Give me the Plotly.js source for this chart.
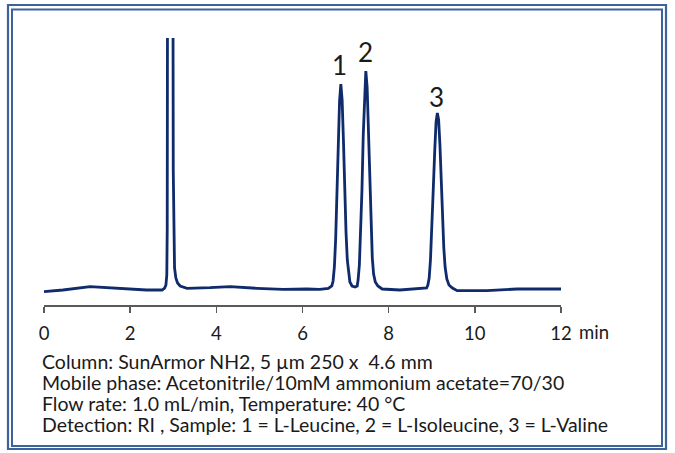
<!DOCTYPE html>
<html>
<head>
<meta charset="utf-8">
<script src="https://cdn.plot.ly/plotly-3.0.1.min.js"></script>
<style>
html,body{margin:0;padding:0;background:#fff;}
#chart{width:675px;height:453px;}
</style>
</head>
<body>
<div id="chart"></div>
<script>
// Retention time (min) and detector signal (arbitrary units, baseline ~0)
var timeMin = [
  0.00, 0.44, 1.07, 1.53, 2.00, 2.38, 2.74, 2.80, 2.83, 2.85, 2.86, 2.87, 2.90, 2.93, 2.96, 2.99,
  3.00, 3.01, 3.03, 3.06, 3.10, 3.16, 3.32, 3.85, 4.32, 4.94, 5.55, 6.10, 6.40, 6.60,
  6.68, 6.71, 6.74, 6.77, 6.80, 6.83, 6.86, 6.89, 6.92, 6.95, 6.98, 7.01, 7.04, 7.07, 7.10, 7.15, 7.22,
  7.27, 7.29, 7.32, 7.35, 7.38, 7.41, 7.44, 7.47, 7.50, 7.53, 7.56, 7.59, 7.62, 7.65, 7.69, 7.75, 7.85,
  8.26, 8.70, 8.88, 8.91, 8.94, 8.97, 9.00, 9.03, 9.07, 9.10, 9.13, 9.16, 9.19, 9.22, 9.25, 9.28, 9.31,
  9.35, 9.40, 9.48, 9.59, 10.28, 10.98, 11.36, 12.00
];
var signal = [
  -1.7, 0.0, 3.3, 2.3, 0.7, 0.0, 0.0, 2, 5, 15, 60, 400, 1500, 1800, 1500, 400,
  120, 50, 22, 12, 7, 4, 1.7, 2.3, 3.3, 1.7, 0.7, 1.0, 0.7, 1.5,
  4, 9, 23, 51, 94, 146, 189, 206, 190, 150, 100, 58, 30, 15, 8, 4, 3,
  4, 10, 25, 55, 100, 155, 200, 219, 203, 160, 108, 62, 32, 16, 8, 4, 1,
  0.0, 1.5, 2, 5, 12, 30, 58, 95, 140, 168, 177, 170, 145, 108, 70, 42, 23,
  11, 5, 2, -0.7, -0.7, 1.0, 1.0, 1.0
];
var peakLabels = ["1", "2", "3"];
var peakTimes = [6.86, 7.47, 9.12];
var peakLabelHeights = [225, 238, 193];
var tickValues = [0, 2, 4, 6, 8, 10, 12];
var tickLabels = ["0", "2", "4", "6", "8", "10", "12"];
var axisUnit = "min";
var conditions = [
  "Column: SunArmor NH2, 5 µm 250 x  4.6 mm",
  "Mobile phase: Acetonitrile/10mM ammonium acetate=70/30",
  "Flow rate: 1.0 mL/min, Temperature: 40 °C",
  "Detection: RI , Sample: 1 = L-Leucine, 2 = L-Isoleucine, 3 = L-Valine"
];

var W = 675, H = 453, L = 44, R = 114, T = 38, B = 148;
var pw = W - L - R, ph = H - T - B;
function px2x(px){ return (px - L) / pw; }
function py2y(py){ return (H - B - py) / ph; }

var frameColor = "#3d639b";
var shapes = [
  {type:"rect", xref:"paper", yref:"paper", x0:px2x(8), x1:px2x(666), y0:py2y(449), y1:py2y(5),
   line:{color:frameColor, width:2.2}, fillcolor:"rgba(0,0,0,0)"},
  {type:"rect", xref:"paper", yref:"paper", x0:px2x(12), x1:px2x(662), y0:py2y(446), y1:py2y(9.5),
   line:{color:frameColor, width:2}, fillcolor:"rgba(0,0,0,0)"}
];

var annotations = [];
for (var i = 0; i < peakLabels.length; i++) {
  annotations.push({x: peakTimes[i], y: peakLabelHeights[i], xref:"x", yref:"y", text: peakLabels[i],
    showarrow:false, font:{family:"Lato, 'Open Sans', sans-serif", size:26, color:"#1a1a1a"}});
}
annotations.push({x: 12, y: 0, xref:"x", yref:"paper", text: axisUnit, showarrow:false,
  xanchor:"left", yanchor:"middle", xshift:16, yshift:-27,
  font:{family:"Lato, sans-serif", size:18.5, color:"#1a1a1a"}});
var lineY = [361, 382, 403, 424];
for (var j = 0; j < conditions.length; j++) {
  annotations.push({x: 0, y: 0, xref:"paper", yref:"paper", text: conditions[j], showarrow:false,
    xanchor:"left", yanchor:"middle", align:"left", xshift:-3, yshift: -(lineY[j] - (H - B)),
    borderpad:0,
    font:{family:"Lato, sans-serif", size:19.5, color:"#1a1a1a"}});
}

var trace = {
  x: timeMin, y: signal, type:"scatter", mode:"lines",
  line:{color:"#0f2b6c", width:2.8}, hoverinfo:"skip"
};

var layout = {
  width: W, height: H, autosize:false,
  margin:{l:L, r:R, t:T, b:B, pad:0},
  paper_bgcolor:"#ffffff", plot_bgcolor:"#ffffff",
  showlegend:false,
  xaxis:{range:[0,12], tickvals:tickValues, ticktext:tickLabels, showgrid:false, zeroline:false,
    showline:true, linecolor:"#5a5a5a", linewidth:1.5, ticks:"outside", ticklen:6, tickwidth:1.5,
    tickcolor:"#5a5a5a", ticklabelstandoff:5,
    tickfont:{family:"Lato, sans-serif", size:18.5, color:"#1a1a1a"}},
  yaxis:{range:[-15,252], visible:false, showgrid:false, zeroline:false},
  shapes: shapes,
  annotations: annotations
};

Plotly.newPlot("chart", [trace], layout, {displayModeBar:false, staticPlot:true});
</script>
</body>
</html>
